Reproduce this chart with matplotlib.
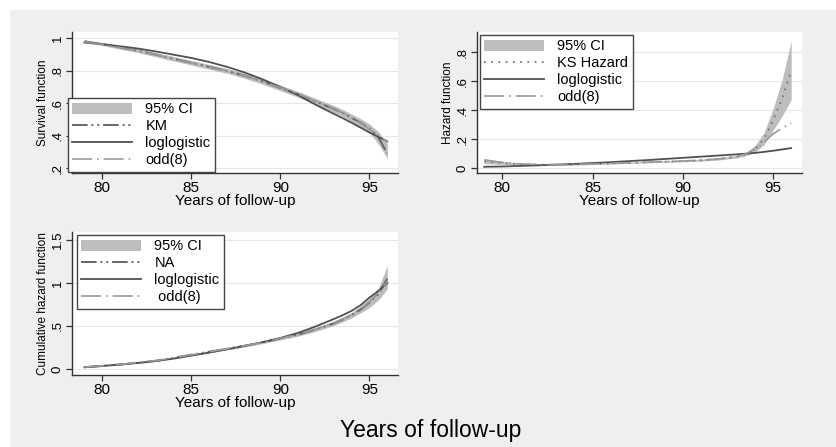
import numpy as np
import matplotlib
matplotlib.use("Agg")
import matplotlib.pyplot as plt
from matplotlib.patches import Rectangle

plt.rcParams["font.family"] = ["Liberation Sans", "DejaVu Sans"]

# years on the follow-up axis
years = [79, 80, 81, 82, 83, 84, 85, 86, 87, 88, 89, 90, 91, 92, 93, 93.5, 94, 94.5, 95, 95.5, 96]

# Survival function
surv_km = [0.983, 0.965, 0.945, 0.925, 0.900, 0.875, 0.850, 0.825, 0.800, 0.770, 0.735, 0.695,
           0.655, 0.610, 0.565, 0.540, 0.510, 0.480, 0.445, 0.390, 0.290]
surv_lo = [0.975, 0.956, 0.934, 0.913, 0.887, 0.861, 0.836, 0.810, 0.785, 0.754, 0.718, 0.678,
           0.637, 0.591, 0.544, 0.518, 0.487, 0.455, 0.418, 0.350, 0.260]
surv_hi = [0.990, 0.974, 0.956, 0.937, 0.913, 0.889, 0.864, 0.840, 0.815, 0.786, 0.752, 0.712,
           0.673, 0.629, 0.586, 0.562, 0.533, 0.505, 0.472, 0.425, 0.350]
surv_loglog = [0.975, 0.965, 0.952, 0.938, 0.920, 0.900, 0.880, 0.855, 0.825, 0.790, 0.748, 0.700,
               0.650, 0.590, 0.535, 0.508, 0.480, 0.450, 0.420, 0.393, 0.365]
surv_odd = [0.980, 0.963, 0.944, 0.924, 0.900, 0.875, 0.851, 0.826, 0.800, 0.770, 0.735, 0.697,
            0.657, 0.612, 0.565, 0.540, 0.510, 0.478, 0.440, 0.405, 0.360]

# Hazard function
haz_ks = [0.045, 0.034, 0.026, 0.022, 0.022, 0.024, 0.027, 0.031, 0.035, 0.039, 0.043, 0.047,
          0.053, 0.062, 0.078, 0.095, 0.130, 0.200, 0.330, 0.480, 0.670]
haz_lo = [0.030, 0.025, 0.019, 0.017, 0.018, 0.020, 0.023, 0.027, 0.031, 0.035, 0.039, 0.042,
          0.047, 0.055, 0.070, 0.085, 0.110, 0.160, 0.260, 0.360, 0.470]
haz_hi = [0.065, 0.045, 0.034, 0.028, 0.026, 0.028, 0.031, 0.035, 0.040, 0.044, 0.048, 0.053,
          0.060, 0.070, 0.087, 0.107, 0.155, 0.245, 0.410, 0.610, 0.880]
haz_loglog = [0.008, 0.010, 0.014, 0.018, 0.023, 0.028, 0.034, 0.040, 0.047, 0.054, 0.062, 0.070,
              0.078, 0.086, 0.094, 0.099, 0.104, 0.111, 0.119, 0.128, 0.137]
haz_odd = [0.055, 0.038, 0.028, 0.024, 0.023, 0.025, 0.028, 0.032, 0.036, 0.040, 0.044, 0.048,
           0.054, 0.063, 0.080, 0.098, 0.130, 0.180, 0.235, 0.275, 0.310]

# Cumulative hazard function
cum_na = [0.020, 0.035, 0.052, 0.072, 0.095, 0.130, 0.165, 0.200, 0.235, 0.270, 0.310, 0.355,
          0.400, 0.460, 0.530, 0.575, 0.625, 0.690, 0.770, 0.870, 1.050]
cum_lo = [0.015, 0.029, 0.045, 0.064, 0.086, 0.120, 0.154, 0.188, 0.222, 0.256, 0.295, 0.338,
          0.381, 0.438, 0.505, 0.547, 0.593, 0.652, 0.715, 0.800, 0.930]
cum_hi = [0.025, 0.041, 0.059, 0.080, 0.104, 0.140, 0.176, 0.212, 0.248, 0.284, 0.325, 0.372,
          0.419, 0.482, 0.555, 0.603, 0.657, 0.728, 0.825, 0.940, 1.200]
cum_loglog = [0.020, 0.036, 0.052, 0.070, 0.092, 0.120, 0.155, 0.190, 0.228, 0.268, 0.312, 0.360,
              0.420, 0.495, 0.580, 0.625, 0.675, 0.740, 0.830, 0.905, 1.000]
cum_odd = [0.021, 0.036, 0.053, 0.073, 0.096, 0.130, 0.164, 0.199, 0.234, 0.270, 0.311, 0.356,
           0.402, 0.463, 0.535, 0.580, 0.630, 0.695, 0.780, 0.880, 1.020]

band_col = "#bdbdbd"
W, H = 836, 447

fig = plt.figure(figsize=(W / 100, H / 100), dpi=100, facecolor="white")
fig.add_artist(Rectangle((10 / W, 0), 1 - 10 / W, 1 - 10 / H, transform=fig.transFigure,
                         facecolor="#efefef", edgecolor="none", zorder=-10))


def make_ax(x0, x1, y0, y1):
    ax = fig.add_axes([x0 / W, 1 - y1 / H, (x1 - x0) / W, (y1 - y0) / H])
    ax.set_facecolor("white")
    for s in ["top", "right"]:
        ax.spines[s].set_visible(False)
    for s in ["left", "bottom"]:
        ax.spines[s].set_color("#333333")
        ax.spines[s].set_linewidth(1.0)
    ax.tick_params(axis="both", direction="out", length=4, width=0.9, color="#333333", pad=2,
                   labelsize=11)
    ax.tick_params(axis="y", labelrotation=90, labelsize=9.5)
    ax.set_xlim(78.3, 96.6)
    ax.set_xticks([80, 85, 90, 95])
    ax.grid(axis="y", color="#e6e6e6", linewidth=0.8)
    ax.set_axisbelow(True)
    ax.set_xlabel("Years of follow-up", fontsize=11, labelpad=-1)
    return ax


def yfmt(vals):
    out = []
    for v in vals:
        s = ("%g" % v)
        if s.startswith("0."):
            s = s[1:]
        out.append(s)
    return out


def add_legend(ax, x0, y0):
    leg = ax.legend(loc="upper left", bbox_to_anchor=(x0 / W, 1 - y0 / H),
                    bbox_transform=fig.transFigure, borderaxespad=0, fontsize=10.5,
                    handlelength=4.1, handleheight=0.85, handletextpad=0.9, labelspacing=0.2,
                    borderpad=0.3, fancybox=False, framealpha=1, edgecolor="#444444")
    leg.get_frame().set_linewidth(1.0)
    return leg


km_dash = (0, (8, 2, 1, 2, 1, 2))
odd_dash = (0, (12, 3, 1, 3))

# panel 1: survival
ax1 = make_ax(72, 398, 32, 173)
ax1.fill_between(years, surv_lo, surv_hi, color=band_col, linewidth=0, label="95% CI")
ax1.plot(years, surv_km, color="#666666", linewidth=1.4, linestyle=km_dash, label="KM")
ax1.plot(years, surv_loglog, color="#505050", linewidth=1.3, label="loglogistic")
ax1.plot(years, surv_odd, color="#999999", linewidth=1.2, linestyle=odd_dash, label="odd(8)")
ax1.set_ylim(0.17, 1.04)
ax1.set_yticks([0.2, 0.4, 0.6, 0.8, 1])
ax1.set_yticklabels(yfmt([0.2, 0.4, 0.6, 0.8, 1]), va="center")
ax1.set_ylabel("Survival function", fontsize=8.5, labelpad=2)
add_legend(ax1, 68, 98)

# panel 2: hazard
ax2 = make_ax(477, 802, 32, 173)
ax2.set_xlim(78.6, 96.6)
ax2.fill_between(years, haz_lo, haz_hi, color=band_col, linewidth=0, label="95% CI")
ax2.plot(years, haz_ks, color="#777777", linewidth=1.3, linestyle=(0, (1, 3)), label="KS Hazard")
ax2.plot(years, haz_loglog, color="#505050", linewidth=1.3, label="loglogistic")
ax2.plot(years, haz_odd, color="#999999", linewidth=1.2, linestyle=odd_dash, label="odd(8)")
ax2.set_ylim(-0.035, 0.94)
ax2.set_yticks([0, 0.2, 0.4, 0.6, 0.8])
ax2.set_yticklabels(yfmt([0, 0.2, 0.4, 0.6, 0.8]), va="center")
ax2.set_ylabel("Hazard function", fontsize=8.5, labelpad=2)
add_legend(ax2, 480, 35)

# panel 3: cumulative hazard
ax3 = make_ax(72, 398, 232, 375)
ax3.fill_between(years, cum_lo, cum_hi, color=band_col, linewidth=0, label="95% CI")
ax3.plot(years, cum_na, color="#666666", linewidth=1.4, linestyle=km_dash, label="NA")
ax3.plot(years, cum_loglog, color="#505050", linewidth=1.3, label="loglogistic")
ax3.plot(years, cum_odd, color="#999999", linewidth=1.2, linestyle=odd_dash, label=" odd(8)")
ax3.set_ylim(-0.07, 1.59)
ax3.set_yticks([0, 0.5, 1, 1.5])
ax3.set_yticklabels(yfmt([0, 0.5, 1, 1.5]), va="center")
ax3.set_ylabel("Cumulative hazard function", fontsize=8.5, labelpad=2)
add_legend(ax3, 77, 235)

fig.text(431 / W, 1 - 431 / H, "Years of follow-up", fontsize=16.5, ha="center", va="center")

fig.savefig("out.png", dpi=100, facecolor=fig.get_facecolor())
